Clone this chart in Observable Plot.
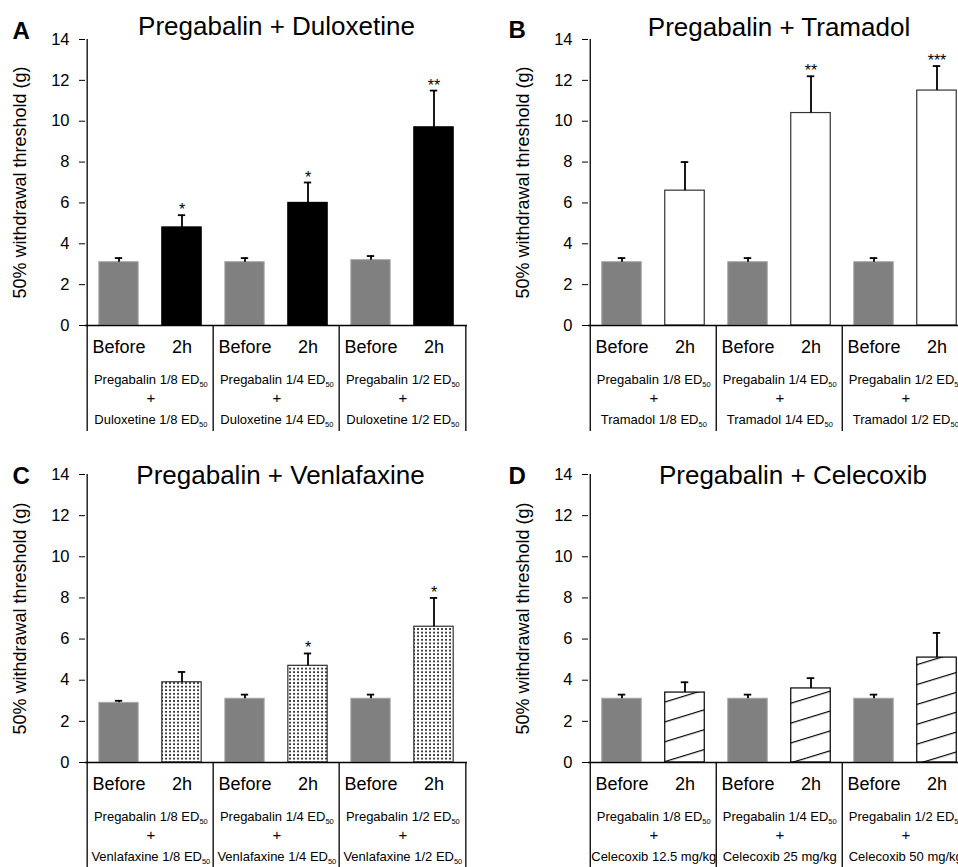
<!DOCTYPE html>
<html>
<head>
<meta charset="utf-8">
<script src="https://cdn.jsdelivr.net/npm/d3@7"></script>
<script src="https://cdn.jsdelivr.net/npm/@observablehq/plot@0.6"></script>
<style>
  html, body { margin: 0; padding: 0; background: white; }
  body { width: 958px; height: 867px; overflow: hidden; position: relative; font-family: "Liberation Sans", Arial, sans-serif; }
  .panel { position: absolute; }
  .panel svg { max-width: none !important; display: block; }
</style>
</head>
<body>
<svg width="0" height="0" style="position:absolute">
  <defs>
    <pattern id="dots" patternUnits="userSpaceOnUse" width="4" height="3.6">
      <rect width="4" height="3.6" fill="white"></rect>
      <rect x="1.2" y="1.0" width="1.7" height="1.6" fill="black"></rect>
    </pattern>
    <pattern id="hatch" patternUnits="userSpaceOnUse" width="8" height="19" patternTransform="rotate(-17)">
      <rect width="8" height="19" fill="white"></rect>
      <line x1="0" y1="0.6" x2="8" y2="0.6" stroke="black" stroke-width="1.2"></line>
    </pattern>
  </defs>
</svg>
<div id="A" class="panel" style="left:0px;top:0px"></div>
<div id="B" class="panel" style="left:480px;top:0px"></div>
<div id="C" class="panel" style="left:0px;top:440px"></div>
<div id="D" class="panel" style="left:480px;top:440px"></div>
<script>
// ---------- data ----------
const times = ["Before", "2h"];
const yTicks = [0, 2, 4, 6, 8, 10, 12, 14];
const yLabel = "50% withdrawal threshold (g)";
const pregabalinDoses = ["Pregabalin 1/8 ED50", "Pregabalin 1/4 ED50", "Pregabalin 1/2 ED50"];

// Panel A: Pregabalin + Duloxetine
const titleA = "Pregabalin + Duloxetine";
const partnerA = ["Duloxetine 1/8 ED50", "Duloxetine 1/4 ED50", "Duloxetine 1/2 ED50"];
const beforeA = [3.1, 3.1, 3.2];
const beforeErrA = [0.2, 0.2, 0.2];
const afterA = [4.8, 6.0, 9.7];
const afterErrA = [0.6, 1.0, 1.8];
const starsA = ["*", "*", "**"];

// Panel B: Pregabalin + Tramadol
const titleB = "Pregabalin + Tramadol";
const partnerB = ["Tramadol 1/8 ED50", "Tramadol 1/4 ED50", "Tramadol 1/2 ED50"];
const beforeB = [3.1, 3.1, 3.1];
const beforeErrB = [0.2, 0.2, 0.2];
const afterB = [6.6, 10.4, 11.5];
const afterErrB = [1.4, 1.8, 1.2];
const starsB = ["", "**", "***"];

// Panel C: Pregabalin + Venlafaxine
const titleC = "Pregabalin + Venlafaxine";
const partnerC = ["Venlafaxine 1/8 ED50", "Venlafaxine 1/4 ED50", "Venlafaxine 1/2 ED50"];
const beforeC = [2.9, 3.1, 3.1];
const beforeErrC = [0.1, 0.2, 0.2];
const afterC = [3.9, 4.7, 6.6];
const afterErrC = [0.5, 0.6, 1.4];
const starsC = ["", "*", "*"];

// Panel D: Pregabalin + Celecoxib
const titleD = "Pregabalin + Celecoxib";
const partnerD = ["Celecoxib 12.5 mg/kg", "Celecoxib 25 mg/kg", "Celecoxib 50 mg/kg"];
const beforeD = [3.1, 3.1, 3.1];
const beforeErrD = [0.2, 0.2, 0.2];
const afterD = [3.4, 3.6, 5.1];
const afterErrD = [0.5, 0.5, 1.2];
const starsD = ["", "", ""];

// ---------- drawing ----------
const FONT = "'Liberation Sans', Arial, Helvetica, sans-serif";

function subscriptED(svg) {
  const ns = "http://www.w3.org/2000/svg";
  svg.querySelectorAll("text, tspan").forEach(el => {
    if (el.childNodes.length === 1 && el.firstChild.nodeType === 3) {
      const s = el.textContent;
      if (/ED50$/.test(s)) {
        el.textContent = s.slice(0, -2);
        const t = document.createElementNS(ns, "tspan");
        t.setAttribute("font-size", "7.5");
        t.setAttribute("dy", "3");
        t.textContent = "50";
        el.appendChild(t);
      }
    }
  });
}

function panel(cfg) {
  const {letter, title, partner, before, beforeErr, after, afterErr, stars, fill2h, stroke2h,
         width, marginLeft, marginRight, marginTop, plotH, marginBottom, tableH,
         letterDx, letterDy, titleDx, titleDy} = cfg;
  const rows = [];
  for (let i = 0; i < 3; i++) {
    rows.push({key: `${i}-Before`, time: times[0], value: before[i], err: beforeErr[i], star: "", kind: "before"});
    rows.push({key: `${i}-2h`, time: times[1], value: after[i], err: afterErr[i], star: stars[i], kind: "after"});
  }
  const domain = rows.map(d => d.key);
  const step = (width - marginLeft - marginRight) / domain.length;
  const barInset = (step - 40) / 2;
  const capInset = (step - 8) / 2;
  const groups = [0, 1, 2].map(i => ({key: domain[2 * i], l1: pregabalinDoses[i], l3: partner[i]}));

  const svg = Plot.plot({
    width, height: marginTop + plotH + marginBottom,
    marginLeft, marginRight, marginTop, marginBottom,
    style: {fontFamily: FONT, color: "black", background: "white", overflow: "visible"},
    x: {type: "band", domain, padding: 0},
    y: {domain: [0, 14]},
    marks: [
      Plot.barY(rows.filter(d => d.kind === "before"), {x: "key", y: "value", fill: "#808080", stroke: "#a8a8a8", strokeWidth: 1, insetLeft: barInset, insetRight: barInset}),
      Plot.barY(rows.filter(d => d.kind === "after"), {x: "key", y: "value", fill: fill2h, stroke: stroke2h, strokeWidth: 1.2, insetLeft: barInset, insetRight: barInset}),
      Plot.ruleX(rows, {x: "key", y1: "value", y2: d => d.value + d.err, stroke: "black", strokeWidth: 1.8}),
      Plot.tickY(rows, {x: "key", y: d => d.value + d.err, stroke: "black", strokeWidth: 1.8, insetLeft: capInset, insetRight: capInset}),
      Plot.text(rows, {x: "key", y: d => d.value + d.err, text: "star", lineAnchor: "bottom", dy: 0, fontSize: 16}),
      Plot.ruleY([0], {stroke: "black", strokeWidth: 1.5}),
      // y-axis line, extended down through the table
      Plot.ruleX([domain[0]], {dx: -step / 2, insetBottom: -tableH, stroke: "black", strokeWidth: 1.3}),
      // group separators in the table
      Plot.ruleX([domain[2], domain[4]], {dx: -step / 2, insetTop: plotH, insetBottom: -tableH, stroke: "black", strokeWidth: 1.3}),
      Plot.ruleX([domain[5]], {dx: step / 2, insetTop: plotH, insetBottom: -tableH, stroke: "black", strokeWidth: 1.3}),
      Plot.axisX({tickSize: 0, tickPadding: 15, fontSize: 18, label: null, tickFormat: k => rows.find(r => r.key === k).time}),
      Plot.axisY({ticks: yTicks, tickSize: 6, tickPadding: 10, fontSize: 16.5, label: null}),
      Plot.text([yLabel], {frameAnchor: "left", textAnchor: "middle", lineAnchor: "middle", rotate: -90, dx: -65, fontSize: 18}),
      Plot.text(groups, {x: "key", dx: step / 2, text: "l1", frameAnchor: "bottom", lineAnchor: "bottom", dy: 58, fontSize: 13}),
      Plot.text(groups, {x: "key", dx: step / 2, text: () => "+", frameAnchor: "bottom", lineAnchor: "bottom", dy: 77, fontSize: 15}),
      Plot.text(groups, {x: "key", dx: step / 2, text: "l3", frameAnchor: "bottom", lineAnchor: "bottom", dy: 98, fontSize: 13}),
      Plot.text([title], {frameAnchor: "top", lineAnchor: "bottom", dx: titleDx, dy: titleDy, fontSize: 26}),
      Plot.text([letter], {frameAnchor: "top-left", textAnchor: "start", lineAnchor: "bottom", dx: letterDx, dy: letterDy, fontSize: 24, fontWeight: "bold"})
    ]
  });
  subscriptED(svg);
  return svg;
}

const topLayout = {marginTop: 39, plotH: 286, marginBottom: 110, tableH: 106};
const botLayout = {marginTop: 34, plotH: 288, marginBottom: 105, tableH: 106};
const leftLayout = {width: 480, marginLeft: 85, marginRight: 13, letterDx: -73};
const rightLayout = {width: 490, marginLeft: 108, marginRight: 1, letterDx: -80};

document.getElementById("A").appendChild(panel({
  letter: "A", title: titleA, partner: partnerA, before: beforeA, beforeErr: beforeErrA, after: afterA, afterErr: afterErrA,
  stars: starsA, fill2h: "black", stroke2h: "black", ...topLayout, ...leftLayout, letterDy: -1, titleDx: 0, titleDy: -5
}));
document.getElementById("B").appendChild(panel({
  letter: "B", title: titleB, partner: partnerB, before: beforeB, beforeErr: beforeErrB, after: afterB, afterErr: afterErrB,
  stars: starsB, fill2h: "white", stroke2h: "#333", ...topLayout, ...rightLayout, letterDy: -2, titleDx: 0, titleDy: -4
}));
document.getElementById("C").appendChild(panel({
  letter: "C", title: titleC, partner: partnerC, before: beforeC, beforeErr: beforeErrC, after: afterC, afterErr: afterErrC,
  stars: starsC, fill2h: "url(#dots)", stroke2h: "#333", ...botLayout, ...leftLayout, letterDy: 9, titleDx: 4, titleDy: 9
}));
document.getElementById("D").appendChild(panel({
  letter: "D", title: titleD, partner: partnerD, before: beforeD, beforeErr: beforeErrD, after: afterD, afterErr: afterErrD,
  stars: starsD, fill2h: "url(#hatch)", stroke2h: "black", ...botLayout, ...rightLayout, letterDy: 9, titleDx: 14, titleDy: 9
}));
</script>
</body>
</html>
